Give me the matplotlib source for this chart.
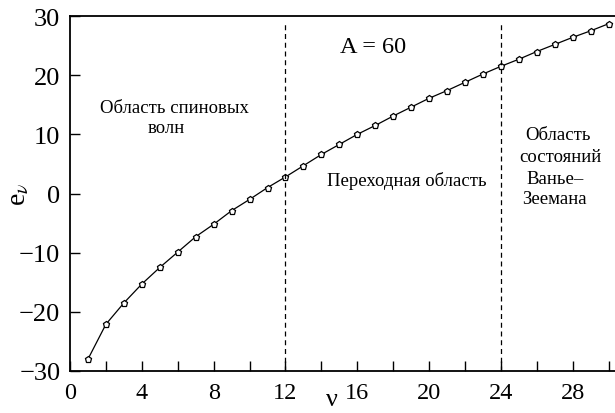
import matplotlib
matplotlib.use('Agg')
import matplotlib.pyplot as plt

# energies of the modes, nu = 1..30
nu = list(range(1, 31))
e_nu = [-28.0, -22.1, -18.5, -15.3, -12.5, -9.9, -7.3, -5.2, -2.9, -1.0,
        1.0, 2.8, 4.7, 6.6, 8.3, 10.0, 11.5, 13.1, 14.6, 16.1,
        17.4, 18.8, 20.2, 21.5, 22.7, 24.0, 25.2, 26.4, 27.5, 28.7]

x_ticks = [0, 4, 8, 12, 16, 20, 24, 28]
y_ticks = [-30, -20, -10, 0, 10, 20, 30]
boundaries = [12, 24]

plt.rcParams['font.family'] = ['Liberation Serif', 'DejaVu Serif']
plt.rcParams['mathtext.fontset'] = 'stix'

fig = plt.figure(figsize=(6.15, 4.14), dpi=100)
ax = fig.add_axes([70 / 615, 1 - 372 / 414, 545 / 615, 355 / 414])

ax.plot(nu, e_nu, color='black', lw=0.9, marker='p', markersize=4.5,
        markerfacecolor='white', markeredgecolor='black', markeredgewidth=0.9)

for b in boundaries:
    ax.plot([b, b], [-30, 29.2], color='black', lw=0.9, ls=(0, (4, 3)))

ax.set_xlim(0, 30.35)
ax.set_ylim(-30, 30)
ax.set_xticks(x_ticks)
ax.set_xticks(range(2, 31, 2), minor=True)
ax.set_yticks(y_ticks)
ax.set_yticklabels([str(t).replace('-', '\u2212') for t in y_ticks])
ax.tick_params(axis='both', which='both', direction='in', length=7, width=1)
ax.tick_params(axis='y', labelsize=19, pad=7)
ax.tick_params(axis='x', labelsize=17.5, pad=8)
ax.tick_params(axis='x', which='minor', labelbottom=False)
ax.spines['right'].set_visible(False)
for s in ['left', 'bottom', 'top']:
    ax.spines[s].set_linewidth(1.3)

ax.set_ylabel(r'e$_\nu$', fontsize=20)
ax.yaxis.set_label_coords(-0.093, 0.5)
ax.yaxis.label.set_va('center')
ax.set_xlabel('\u03bd', fontsize=19)
ax.xaxis.set_label_coords(0.481, -0.097)
ax.xaxis.label.set_va('baseline')

ax.text(1.65, 14.6, 'Область спиновых', fontsize=13.5, ha='left', va='center')
ax.text(4.3, 11.2, 'волн', fontsize=13.5, ha='left', va='center')
ax.text(15.05, 24.8, 'A = 60', fontsize=17.5, ha='left', va='center')
ax.text(14.3, 2.2, 'Переходная область', fontsize=13.5, ha='left', va='center')
ax.text(27.15, 10.0, 'Область', fontsize=13.5, ha='center', va='center')
ax.text(27.3, 6.3, 'состояний', fontsize=13.5, ha='center', va='center')
ax.text(25.4, 2.6, 'Ванье–', fontsize=13.5, ha='left', va='center')
ax.text(25.2, -0.9, 'Зеемана', fontsize=13.5, ha='left', va='center')

plt.savefig('out.png', dpi=100)
